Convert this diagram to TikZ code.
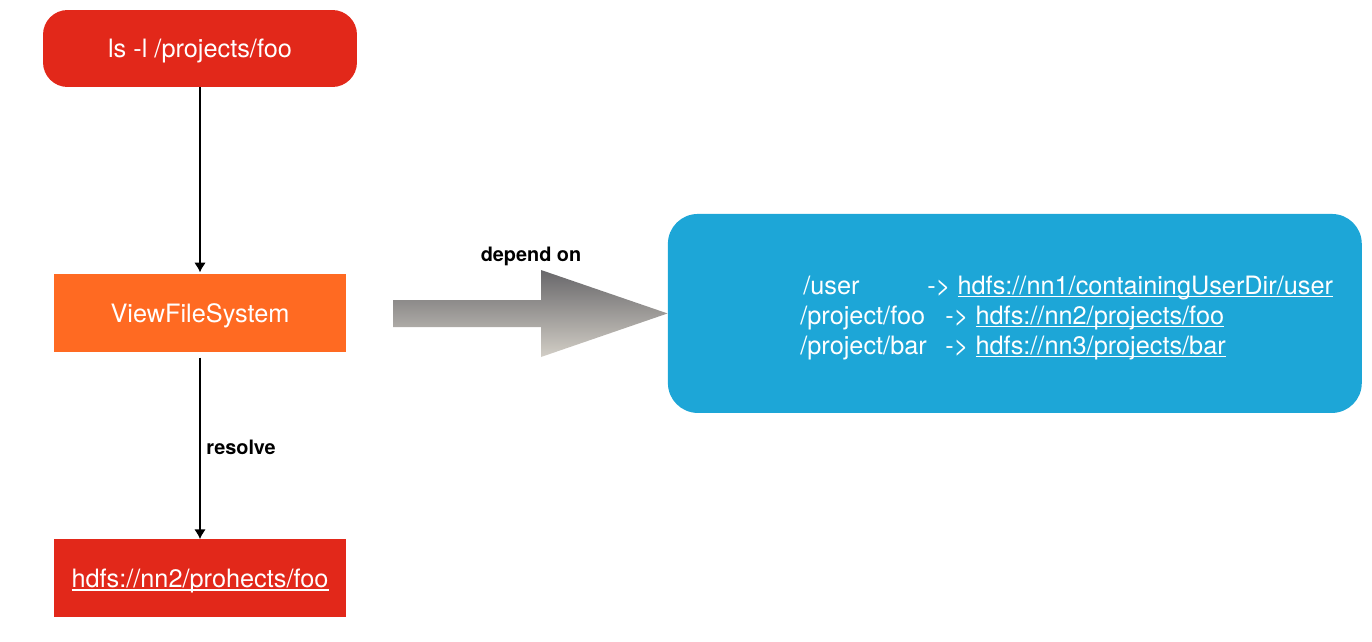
\documentclass[tikz,border=0pt]{standalone}
\usepackage{fontspec}
\setmainfont{TeX Gyre Heros}
\usetikzlibrary{arrows.meta,positioning,calc}
\definecolor{cmdred}{HTML}{E2281A}
\definecolor{vfsorange}{HTML}{FF6A22}
\definecolor{mountblue}{HTML}{1DA6D7}
\definecolor{arrowdark}{HTML}{68676A}
\definecolor{arrowlight}{HTML}{D2CEC6}
\newcommand\lnk[1]{\setbox0\hbox{#1}\rlap{\rule[-1.7pt]{\wd0}{0.8pt}}\box0}

\begin{document}
\begin{tikzpicture}[x=0.02cm,y=-0.02cm]
\tikzstyle{txt}=[font=\fontsize{14.4}{17}\selectfont,text=white]
\tikzstyle{box}=[txt,inner sep=0pt,text depth=0pt,node distance=5.3cm]
\tikzstyle{lbl}=[font=\fontsize{11.3}{13}\selectfont\bfseries,text=black]
\tikzstyle{maptext}=[txt,inner sep=0pt,anchor=base west]
\tikzstyle{link}=[line width=0.7pt,-{Latex[length=5.5pt,width=6.5pt]}]
\useasboundingbox (0,0) rectangle (1372,642);

\node[box,fill=cmdred,rounded corners=14pt,minimum width=6.28cm,minimum height=1.54cm] at (200,48.5) (ls) {ls -l /projects/foo};
\node[box,fill=vfsorange,minimum width=5.84cm,minimum height=1.56cm,below of=ls] (vfs) {ViewFileSystem};
\node[box,fill=cmdred,minimum width=5.84cm,minimum height=1.56cm,below of=vfs] (hdfs) {\lnk{hdfs://nn2/prohects/foo}};
\node[box,fill=mountblue,rounded corners=17pt,minimum width=13.88cm,minimum height=3.98cm,node distance=16.3cm,right of=vfs] (mounts) {};

\node[maptext] at (803,294) (p1) {/user};
\node[maptext] at (927,294) (t1) {-> \lnk{hdfs://nn1/containingUserDir/user}};
\node[maptext] at (800,324) (p2) {/project/foo};
\node[maptext] at (945,324) (t2) {-> \lnk{hdfs://nn2/projects/foo}};
\node[maptext] at (800,354) (p3) {/project/bar};
\node[maptext] at (945,354) (t3) {-> \lnk{hdfs://nn3/projects/bar}};

\coordinate (tail) at (393,313.5);
\shade[top color=arrowdark,bottom color=arrowlight] (tail) ++(0,-13.5) -- ++(148,0) -- ++(0,-30)
  -- (mounts.west) -- (541,357) -- ++(0,-30) -- ($(tail)+(0,13.5)$) -- cycle;
\node[lbl] at (531,256) (dep) {depend on};

\draw[link,shorten >=1pt] (ls) -- (vfs);
\draw[link,shorten <=2.8pt] (vfs) -- (hdfs) node[lbl,right,midway,yshift=-1pt] (res) {resolve};

\end{tikzpicture}
\end{document}
